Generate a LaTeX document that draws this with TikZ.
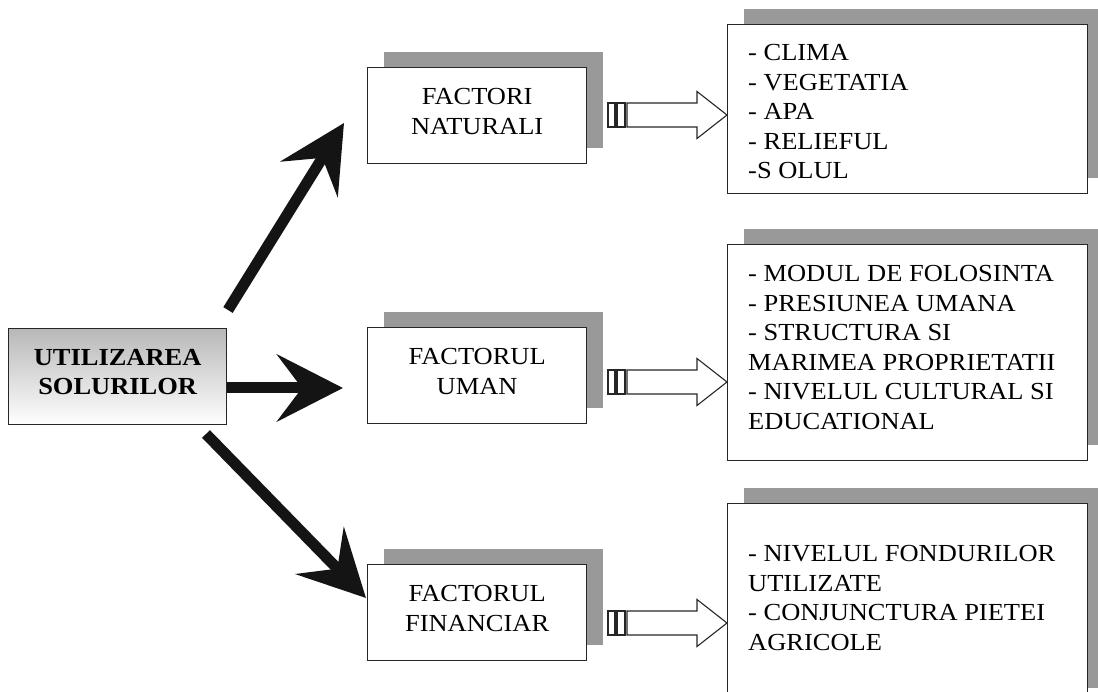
\documentclass[tikz,border=0pt]{standalone}
\usepackage{fontspec}
\setmainfont{Liberation Serif}[FakeStretch=1.08]
\usetikzlibrary{arrows.meta,shadows,calc}
\newcommand{\stripedarrow}[2]{%
  \draw[sarr] ($(#1)+(0,-12)$) rectangle ($(#1)+(7,12)$);
  \draw[sarr] ($(#1)+(9,-12)$) rectangle ($(#1)+(17,12)$);
  \draw[sarr] ($(#1)+(19,-12)$) -- ($(#2)+(-30,-12)$) -- ($(#2)+(-30,-23.5)$) -- (#2)
     -- ($(#2)+(-30,23.5)$) -- ($(#2)+(-30,12)$) -- ($(#1)+(19,12)$) -- cycle;}
\newcommand{\lowstrut}{\rule[-9pt]{0pt}{9pt}}
\begin{document}
\begin{tikzpicture}[x=1pt,y=-1pt,
  txt/.style={font=\fontsize{24.5}{29.5}\selectfont, inner sep=0pt},
  shadowed/.style={general shadow={fill=black!40, shadow xshift=16pt, shadow yshift=16pt}},
  boxline/.style={draw=black!85, line width=1.3pt},
  fbox/.style={boxline, fill=white, shadowed, minimum width=219pt, minimum height=96pt,
    inner sep=0pt, align=center, anchor=north west, txt},
  rbox/.style={boxline, fill=white, shadowed, minimum width=360pt, inner sep=0pt, anchor=north west},
  ubox/.style={boxline, top color=black!28, middle color=black!14, bottom color=white,
    minimum width=218pt, minimum height=96pt, inner sep=0pt, align=center, anchor=north west,
    font=\fontsize{24.5}{29.5}\selectfont\bfseries},
  bigarr/.style={draw=black!92, line width=11pt, -{Stealth[length=66pt, width=67pt, inset=25pt]}},
  sarr/.style={draw=black!85, line width=1.1pt, fill=white},
  list/.style={txt, align=left, anchor=north west}
]
\useasboundingbox (0,0) rectangle (1098,692);

% main box
\node[ubox] (use) at (8,328) {UTILIZAREA\\SOLURILOR\lowstrut};

% factor boxes
\node[fbox] (f1) at (367,67) {FACTORI\\NATURALI\lowstrut};
\node[fbox] (f2) at (367,327) {FACTORUL\\UMAN\lowstrut};
\node[fbox] (f3) at (367,564) {FACTORUL\\FINANCIAR\lowstrut};

% right boxes
\node[rbox, minimum height=169pt] (r1) at (727,24) {};
\node[rbox, minimum height=216pt] (r2) at (727,244) {};
\node[rbox, minimum height=200pt] (r3) at (727,503) {};

\node[list] (t1) at (748,44.5) {- CLIMA\\- VEGETATIA\\- APA\\- RELIEFUL\\-S OLUL};
\node[list] (t2) at (748,265.5) {- MODUL DE FOLOSINTA\\- PRESIUNEA UMANA\\- STRUCTURA SI\\MARIMEA PROPRIETATII\\- NIVELUL CULTURAL SI\\EDUCATIONAL};
\node[list] (t3) at (748,545.5) {- NIVELUL FONDURILOR\\UTILIZATE\\- CONJUNCTURA PIETEI\\AGRICOLE};

% big black arrows
\coordinate (a1s) at (228,310);
\coordinate (a1e) at (344,123);
\coordinate (a3s) at (206,434);
\coordinate (a3e) at (366,598);
\coordinate (a2e) at (343,388);
\draw[bigarr] (a1s) -- (a1e);
\draw[bigarr] (use.east |- a2e) -- (a2e);
\draw[bigarr] (a3s) -- (a3e);

% striped arrows
\coordinate (s1) at (608,115);
\coordinate (s2) at (608,382);
\coordinate (s3) at (608,623);
\coordinate (e1) at (r1.west |- s1);
\coordinate (e2) at (r2.west |- s2);
\coordinate (e3) at (r3.west |- s3);
\stripedarrow{s1}{e1}
\stripedarrow{s2}{e2}
\stripedarrow{s3}{e3}
\end{tikzpicture}
\end{document}
